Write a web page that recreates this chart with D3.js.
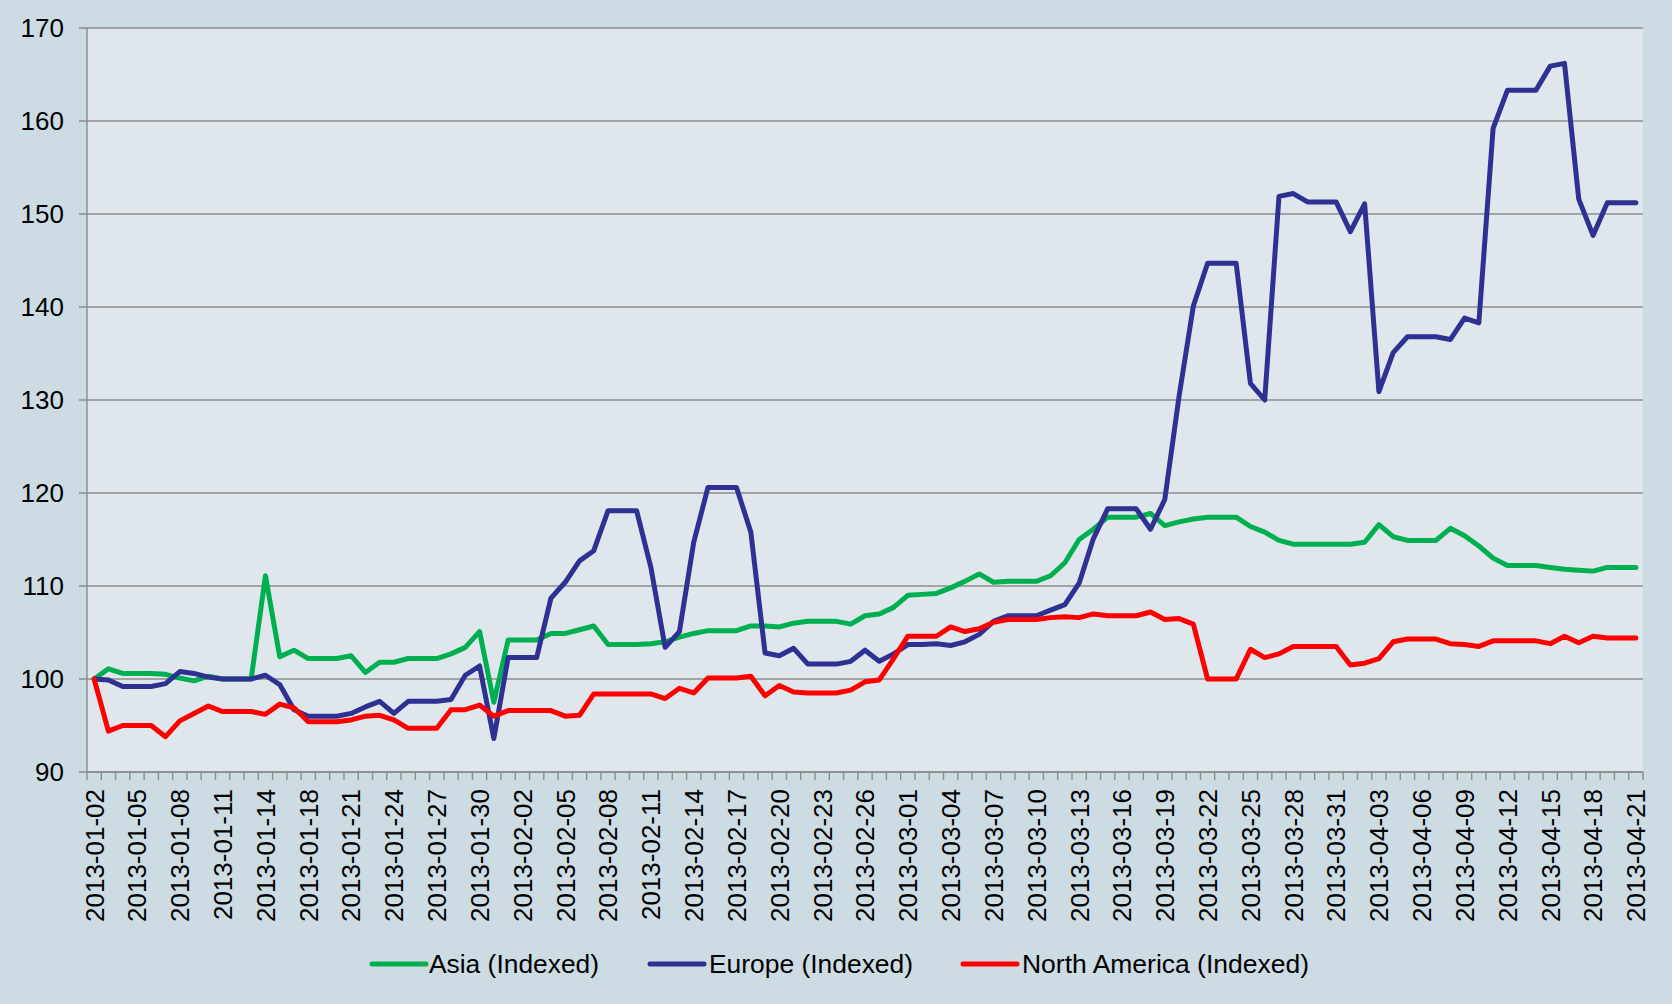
<!DOCTYPE html>
<html>
<head>
<meta charset="utf-8">
<script src="https://cdn.jsdelivr.net/npm/d3@7"></script>
<style>
  html, body { margin: 0; padding: 0; background: #cddbe3; }
  svg { display: block; }
  text { font-family: "Liberation Sans", Arial, sans-serif; fill: #000; }
</style>
</head>
<body>
<svg id="chart" width="1672" height="1004"></svg>
<script>
const dates = [
  "2013-01-02","2013-01-03","2013-01-04","2013-01-05","2013-01-06","2013-01-07","2013-01-08","2013-01-09","2013-01-10","2013-01-11",
  "2013-01-12","2013-01-13","2013-01-14","2013-01-15","2013-01-16","2013-01-18","2013-01-19","2013-01-20","2013-01-21","2013-01-22",
  "2013-01-23","2013-01-24","2013-01-25","2013-01-26","2013-01-27","2013-01-28","2013-01-29","2013-01-30","2013-01-31","2013-02-01",
  "2013-02-02","2013-02-03","2013-02-04","2013-02-05","2013-02-06","2013-02-07","2013-02-08","2013-02-09","2013-02-10","2013-02-11",
  "2013-02-12","2013-02-13","2013-02-14","2013-02-15","2013-02-16","2013-02-17","2013-02-18","2013-02-19","2013-02-20","2013-02-21",
  "2013-02-22","2013-02-23","2013-02-24","2013-02-25","2013-02-26","2013-02-27","2013-02-28","2013-03-01","2013-03-02","2013-03-03",
  "2013-03-04","2013-03-05","2013-03-06","2013-03-07","2013-03-08","2013-03-09","2013-03-10","2013-03-11","2013-03-12","2013-03-13",
  "2013-03-14","2013-03-15","2013-03-16","2013-03-17","2013-03-18","2013-03-19","2013-03-20","2013-03-21","2013-03-22","2013-03-23",
  "2013-03-24","2013-03-25","2013-03-26","2013-03-27","2013-03-28","2013-03-29","2013-03-30","2013-03-31","2013-04-01","2013-04-02",
  "2013-04-03","2013-04-04","2013-04-05","2013-04-06","2013-04-07","2013-04-08","2013-04-09","2013-04-10","2013-04-11","2013-04-12",
  "2013-04-13","2013-04-14","2013-04-15","2013-04-16","2013-04-17","2013-04-18","2013-04-19","2013-04-20","2013-04-21"
];

const asia = [
  100.0,101.1,100.6,100.6,100.6,100.5,100.1,99.8,100.3,100.0,
  100.0,100.0,111.1,102.4,103.1,102.2,102.2,102.2,102.5,100.7,
  101.8,101.8,102.2,102.2,102.2,102.7,103.4,105.1,97.5,104.2,
  104.2,104.2,104.9,104.9,105.3,105.7,103.7,103.7,103.7,103.8,
  104.0,104.5,104.9,105.2,105.2,105.2,105.7,105.7,105.6,106.0,
  106.2,106.2,106.2,105.9,106.8,107.0,107.7,109.0,109.1,109.2,
  109.8,110.5,111.3,110.4,110.5,110.5,110.5,111.1,112.5,115.0,
  116.1,117.4,117.4,117.4,117.8,116.5,116.9,117.2,117.4,117.4,
  117.4,116.4,115.8,114.9,114.5,114.5,114.5,114.5,114.5,114.7,
  116.6,115.3,114.9,114.9,114.9,116.2,115.4,114.3,113.0,112.2,
  112.2,112.2,112.0,111.8,111.7,111.6,112.0,112.0,112.0
];

const europe = [
  100.0,99.9,99.2,99.2,99.2,99.5,100.8,100.6,100.2,100.0,
  100.0,100.0,100.4,99.4,96.7,96.0,96.0,96.0,96.3,97.0,
  97.6,96.3,97.6,97.6,97.6,97.8,100.4,101.4,93.6,102.3,
  102.3,102.3,108.7,110.4,112.7,113.8,118.1,118.1,118.1,112.0,
  103.4,105.1,114.7,120.6,120.6,120.6,115.8,102.8,102.5,103.3,
  101.6,101.6,101.6,101.9,103.1,101.9,102.7,103.7,103.7,103.8,
  103.6,104.0,104.8,106.2,106.8,106.8,106.8,107.4,108.0,110.3,
  115.1,118.3,118.3,118.3,116.1,119.3,130.4,140.1,144.7,144.7,
  144.7,131.8,130.0,151.9,152.2,151.3,151.3,151.3,148.1,151.1,
  130.9,135.1,136.8,136.8,136.8,136.5,138.8,138.3,159.2,163.3,
  163.3,163.3,165.9,166.2,151.6,147.7,151.2,151.2,151.2
];

const northAmerica = [
  100.0,94.4,95.0,95.0,95.0,93.8,95.5,96.3,97.1,96.5,
  96.5,96.5,96.2,97.3,96.9,95.4,95.4,95.4,95.6,96.0,
  96.1,95.6,94.7,94.7,94.7,96.7,96.7,97.2,96.0,96.6,
  96.6,96.6,96.6,96.0,96.1,98.4,98.4,98.4,98.4,98.4,
  97.9,99.0,98.5,100.1,100.1,100.1,100.3,98.2,99.3,98.6,
  98.5,98.5,98.5,98.8,99.7,99.9,102.2,104.6,104.6,104.6,
  105.6,105.1,105.4,106.1,106.4,106.4,106.4,106.6,106.7,106.6,
  107.0,106.8,106.8,106.8,107.2,106.4,106.5,105.9,100.0,100.0,
  100.0,103.2,102.3,102.7,103.5,103.5,103.5,103.5,101.5,101.7,
  102.2,104.0,104.3,104.3,104.3,103.8,103.7,103.5,104.1,104.1,
  104.1,104.1,103.8,104.6,103.9,104.6,104.4,104.4,104.4
];

const yTicks = [90, 100, 110, 120, 130, 140, 150, 160, 170];
const seriesNames = ["Asia (Indexed)", "Europe (Indexed)", "North America (Indexed)"];
const seriesColors = ["#00b050", "#2e3192", "#ff0000"];

const series = [
  { name: seriesNames[0], color: seriesColors[0], values: asia },
  { name: seriesNames[1], color: seriesColors[1], values: europe },
  { name: seriesNames[2], color: seriesColors[2], values: northAmerica }
];

const W = 1672, H = 1004;
const plot = { left: 87, right: 1643, top: 28, bottom: 772 };

const svg = d3.select("#chart");
svg.append("rect").attr("width", W).attr("height", H).attr("fill", "#cddbe3");

const x = d3.scaleBand().domain(dates).range([plot.left, plot.right]).paddingInner(0).paddingOuter(0);
const y = d3.scaleLinear().domain([90, 170]).range([plot.bottom, plot.top]);

// plot background
svg.append("rect")
  .attr("x", plot.left).attr("y", plot.top)
  .attr("width", plot.right - plot.left).attr("height", plot.bottom - plot.top)
  .attr("fill", "#dfe7ed");

// gridlines
svg.append("g").selectAll("line").data(yTicks).join("line")
  .attr("x1", plot.left - 8).attr("x2", plot.right)
  .attr("y1", d => y(d)).attr("y2", d => y(d))
  .attr("stroke", "#8c8c8c").attr("stroke-width", 1.4);

// y axis labels
const yAxis = d3.axisLeft(y).tickValues(yTicks).tickSize(0).tickPadding(23).tickFormat(d3.format("d"));
const gy = svg.append("g").attr("transform", `translate(${plot.left},0)`).call(yAxis);
gy.select(".domain").remove();
gy.selectAll("text").style("font-size", "26px").attr("fill", "#000")
  .style("font-family", "'Liberation Sans', Arial, sans-serif");

// y axis line
svg.append("line")
  .attr("x1", plot.left).attr("x2", plot.left)
  .attr("y1", plot.top).attr("y2", plot.bottom)
  .attr("stroke", "#8c8c8c").attr("stroke-width", 1.4);

// x axis line and category boundary ticks
svg.append("line")
  .attr("x1", plot.left).attr("x2", plot.right)
  .attr("y1", plot.bottom).attr("y2", plot.bottom)
  .attr("stroke", "#8c8c8c").attr("stroke-width", 1.6);
const boundaries = dates.map(d => x(d)).concat([x(dates[dates.length - 1]) + x.bandwidth()]);
svg.append("g").selectAll("line").data(boundaries).join("line")
  .attr("x1", d => d).attr("x2", d => d)
  .attr("y1", plot.bottom).attr("y2", plot.bottom + 8)
  .attr("stroke", "#8c8c8c").attr("stroke-width", 1.4);

// x labels every third category
const labelDates = dates.filter((d, i) => i % 3 === 0);
const xAxis = d3.axisBottom(x).tickValues(labelDates).tickSize(0).tickPadding(0);
const gx = svg.append("g").attr("transform", `translate(0,${plot.bottom})`).call(xAxis);
gx.select(".domain").remove();
gx.selectAll("text")
  .style("font-size", "26px").attr("fill", "#000")
  .style("font-family", "'Liberation Sans', Arial, sans-serif")
  .attr("text-anchor", "end")
  .attr("transform", "rotate(-90)")
  .attr("x", -17).attr("y", 0).attr("dy", "0.36em");

// lines
const line = d3.line()
  .x((v, i) => x(dates[i]) + x.bandwidth() / 2)
  .y(v => y(v))
  .curve(d3.curveLinear);

svg.append("g").selectAll("path").data(series).join("path")
  .attr("d", s => line(s.values))
  .attr("fill", "none")
  .attr("stroke", s => s.color)
  .attr("stroke-width", 5)
  .attr("stroke-linejoin", "round")
  .attr("stroke-linecap", "round");

// legend
const legendItems = [
  { x: 372, tx: 429, w: 170 },
  { x: 650, tx: 709, w: 204 },
  { x: 963, tx: 1022, w: 287 }
];
const lg = svg.append("g");
series.forEach((s, i) => {
  const it = legendItems[i];
  lg.append("line")
    .attr("x1", it.x).attr("x2", it.x + 54)
    .attr("y1", 964).attr("y2", 964)
    .attr("stroke", s.color).attr("stroke-width", 5).attr("stroke-linecap", "round");
  lg.append("text")
    .attr("x", it.tx).attr("y", 973)
    .attr("textLength", it.w).attr("lengthAdjust", "spacingAndGlyphs")
    .style("font-size", "26px")
    .text(s.name);
});
</script>
</body>
</html>
